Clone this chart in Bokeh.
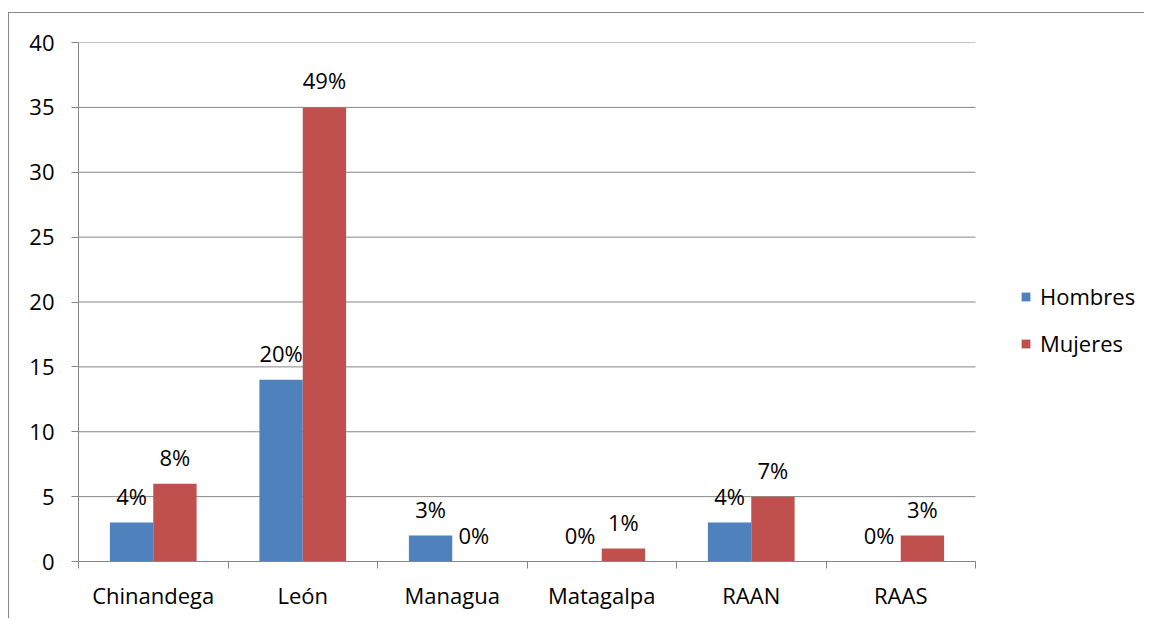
from bokeh.plotting import figure
from bokeh.models import ColumnDataSource, FixedTicker, Legend, LegendItem, Range1d
from bokeh.core.properties import value
from bokeh.embed import file_html
from bokeh.resources import INLINE

categories = ["Chinandega", "León", "Managua", "Matagalpa", "RAAN", "RAAS"]
hombres = [3, 14, 2, 0, 3, 0]
mujeres = [6, 35, 0, 1, 5, 2]
hombres_pct = ["4%", "20%", "3%", "0%", "4%", "0%"]
mujeres_pct = ["8%", "49%", "0%", "1%", "7%", "3%"]
y_ticks = [0, 5, 10, 15, 20, 25, 30, 35, 40]

FONT = "Open Sans"
FS = "22px"
BLUE = "#4F81BD"
RED = "#C0504D"
GRAY = "#868686"

n = len(categories)
centers = [i + 0.5 for i in range(n)]
off = 0.145
bw = 0.29

# frame spans the legend area too; category area is 897px of the 1067px frame
x_end = n * 1067 / 897

src_h = ColumnDataSource(dict(x=[c - off for c in centers], top=hombres, lab=hombres_pct))
src_m = ColumnDataSource(dict(x=[c + off for c in centers], top=mujeres, lab=mujeres_pct))
src_g = ColumnDataSource(dict(y=y_ticks, x0=[0] * len(y_ticks), x1=[n] * len(y_ticks)))

p = figure(width=1136, height=606, output_backend="svg", toolbar_location=None,
           x_range=Range1d(0, x_end), y_range=Range1d(0, 40),
           min_border_left=69, min_border_top=29, min_border_right=0, min_border_bottom=58)
p.styles = {"border-left": "1px solid #878787", "border-top": "1px solid #878787",
            "margin-top": "12px", "margin-left": "8px"}
p.outline_line_color = None
p.background_fill_color = "white"

# horizontal gridlines over the category area only
p.segment(x0="x0", x1="x1", y0="y", y1="y", source=src_g, line_color=GRAY, line_width=1)

rh = p.vbar(x="x", top="top", width=bw, bottom=0, source=src_h, fill_color=BLUE, line_color=None)
rm = p.vbar(x="x", top="top", width=bw, bottom=0, source=src_m, fill_color=RED, line_color=None)

for src in (src_h, src_m):
    p.text(x="x", y="top", text="lab", source=src, text_align="center", text_baseline="middle",
           y_offset=-27, text_font=value(FONT), text_font_size=FS, text_color="black")

# x axis
p.xaxis.bounds = (0, n)
p.xaxis.ticker = FixedTicker(ticks=centers, minor_ticks=list(range(n + 1)))
p.xaxis.major_label_overrides = {c: categories[i] for i, c in enumerate(centers)}
p.xaxis.major_tick_line_color = None
p.xaxis.minor_tick_line_color = GRAY
p.xaxis.minor_tick_in = 0
p.xaxis.minor_tick_out = 7
p.xaxis.axis_line_color = GRAY
p.xaxis.major_label_standoff = 11
p.xaxis.major_label_text_font = FONT
p.xaxis.major_label_text_font_size = FS
p.xaxis.major_label_text_color = "black"
p.xgrid.grid_line_color = None
p.ygrid.grid_line_color = None

# y axis
p.yaxis.ticker = FixedTicker(ticks=y_ticks, minor_ticks=[])
p.yaxis.major_tick_line_color = GRAY
p.yaxis.major_tick_in = 0
p.yaxis.major_tick_out = 7
p.yaxis.minor_tick_line_color = None
p.yaxis.axis_line_color = GRAY
p.yaxis.major_label_standoff = 17
p.yaxis.major_label_text_font = FONT
p.yaxis.major_label_text_font_size = FS
p.yaxis.major_label_text_color = "black"

legend = Legend(items=[LegendItem(label="Hombres", renderers=[rh]),
                       LegendItem(label="Mujeres", renderers=[rm])],
                location=(942, 203), orientation="vertical",
                glyph_width=11, glyph_height=11, label_height=20, spacing=17,
                padding=0, margin=0, label_standoff=9,
                label_text_font=FONT, label_text_font_size=FS, label_text_color="black",
                border_line_color=None, background_fill_alpha=0)
p.add_layout(legend, "center")

open("out.html", "w").write(file_html(p, INLINE))
